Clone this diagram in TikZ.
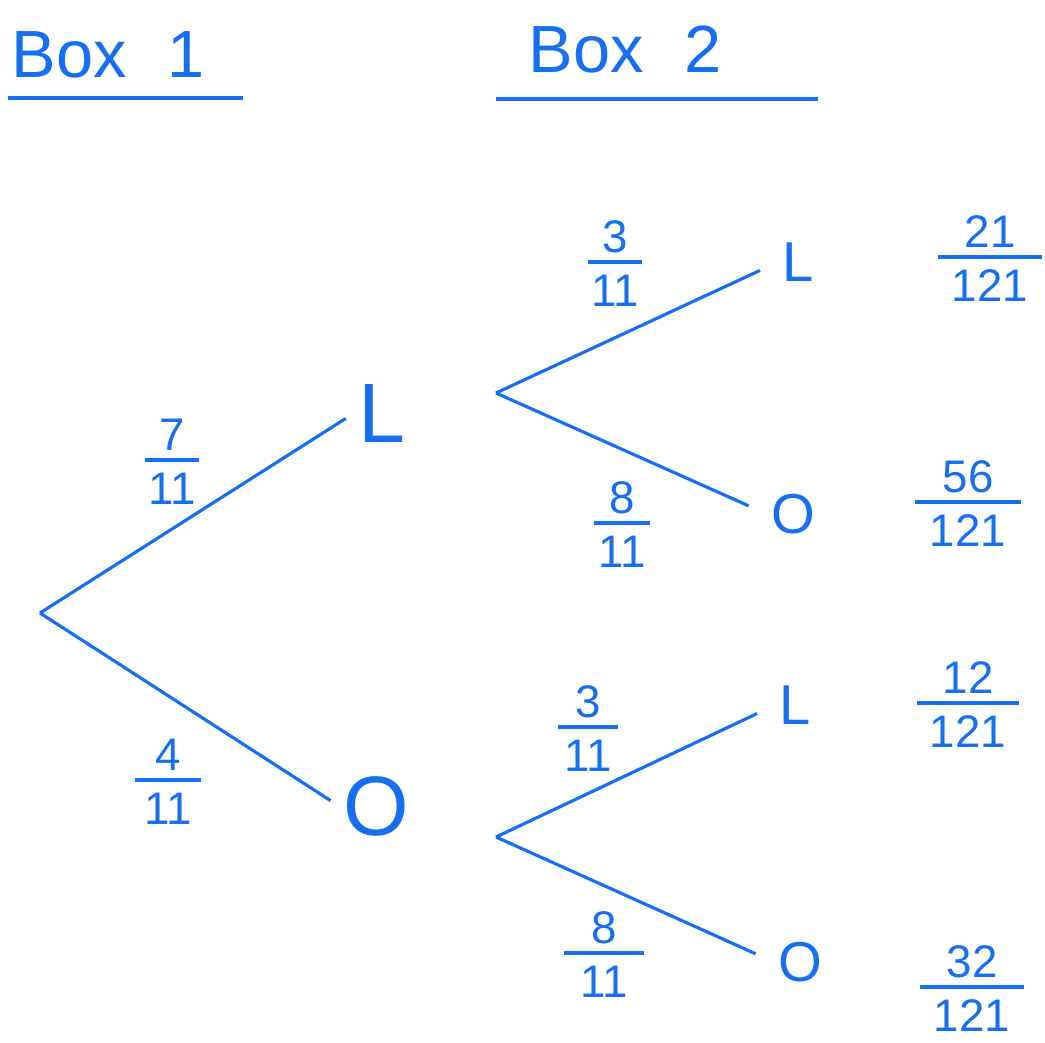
\documentclass[tikz,border=0pt]{standalone}
\usepackage{fontspec}
\setmainfont{Liberation Sans}
\usepackage{xcolor}
\definecolor{penblue}{RGB}{22,110,240}
\usetikzlibrary{positioning}

\tikzset{
  pen/.style={penblue, line width=0.9pt},
  branch/.style={pen, shorten >=2mm},
  head/.style={penblue, font=\fontsize{19}{23}\selectfont},
  bigout/.style={penblue, font=\fontsize{24}{28}\selectfont, inner sep=1pt},
  smallout/.style={penblue, font=\fontsize{16}{19}\selectfont, inner sep=1pt},
  digit/.style={penblue, font=\fontsize{13}{15}\selectfont, inner sep=0pt}
}

% fraction: name, x, bar y, half width, numerator, denominator
\newcommand{\handfrac}[6]{%
  \node[digit] (#1n) at (#2,#3-25) {#5};
  \node[digit] (#1d) at (#2,#3+29) {#6};
  \draw[pen] (#2-#4,#3) -- (#2+#4,#3);
}

\begin{document}
\begin{tikzpicture}[x=0.1mm, y=-0.1mm]
  \useasboundingbox (0,0) rectangle (1045,1042);

  % --- Headings ---
  \node[head] (box1) at (108,55) {Box\,\, 1};
  \draw[pen] (8,98) -- (243,98);
  \node[head] (box2) at (625,50) {Box\,\, 2};
  \draw[pen] (496,99) -- (818,99);

  % --- First stage ---
  \coordinate (root) at (40,613);
  \node[bigout] (fL) at (382,413) {L};
  \node[bigout] (fO) at (376,806) {O};
  \draw[branch, shorten >=1mm] (root) -- (fL.west);
  \draw[branch, shorten >=1mm] (root) -- (fO.west);
  \handfrac{p7}{172}{460}{27}{7}{11}
  \handfrac{p4}{168}{780}{33}{4}{11}

  % --- Second stage, after L ---
  \coordinate (rootL) at (496,393);
  \node[smallout] (LL) at (798,262) {L};
  \node[smallout] (LO) at (793,514) {O};
  \draw[branch] (rootL) -- (LL.west);
  \draw[branch] (rootL) -- (LO.west);
  \handfrac{a3}{615}{262}{27}{3}{11}
  \handfrac{a8}{622}{523}{28}{8}{11}

  % --- Second stage, after O ---
  \coordinate (rootO) at (496,837);
  \node[smallout] (OL) at (795,705) {L};
  \node[smallout] (OO) at (800,962) {O};
  \draw[branch] (rootO) -- (OL.west);
  \draw[branch] (rootO) -- (OO.west);
  \handfrac{b3}{588}{727}{30}{3}{11}
  \handfrac{b8}{604}{953}{40}{8}{11}

  % --- Outcomes ---
  \handfrac{r1}{990}{257}{52}{21}{121}
  \handfrac{r2}{968}{502}{53}{56}{121}
  \handfrac{r3}{968}{703}{51}{12}{121}
  \handfrac{r4}{972}{987}{52}{32}{121}
\end{tikzpicture}
\end{document}
